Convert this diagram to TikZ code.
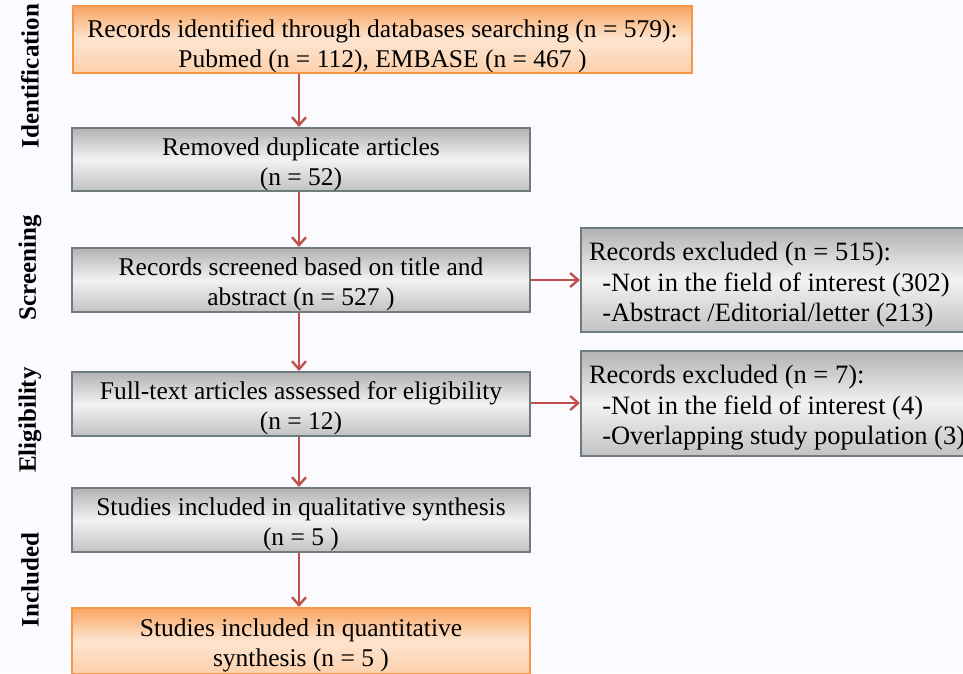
\documentclass[tikz,border=0pt]{standalone}
\usepackage{fontspec}
\setmainfont{Liberation Serif}
\usetikzlibrary{arrows.meta,positioning}
\definecolor{arr}{HTML}{C0504D}
\definecolor{ob}{HTML}{F79646}
\definecolor{gb}{HTML}{6E7B7F}
\tikzset{
  tdown/.style={execute at begin node={\rule{0pt}{#1}}},
  graybox/.style={draw=gb, line width=2pt, top color=black!30, bottom color=black!24, middle color=black!5, align=flush center, font=\fontsize{25.5}{30}\selectfont, inner sep=0pt, text width=450pt, tdown=27pt},
  orangebox/.style={draw=ob, line width=2pt, top color=ob!85, bottom color=ob!45, middle color=ob!25, align=flush center, font=\fontsize{25.5}{30}\selectfont, inner sep=0pt, text width=450pt, tdown=27pt},
  sidebox/.style={graybox, align=flush left, font=\fontsize{26.5}{30.5}\selectfont},
  conn/.style={draw=arr, line width=2.6pt, -{Straight Barb[length=8pt,width=14pt,line width=2.4pt]}},
  stage/.style={rotate=90, font=\bfseries\fontsize{25}{28}\selectfont},
}
\begin{document}
\begin{tikzpicture}[x=1pt,y=-1pt]
\useasboundingbox (0,0) rectangle (963,673);
\fill[white!98!blue] (0,0) rectangle (963,673);
\node[orangebox, tdown=31pt, text width=612pt, minimum width=619, minimum height=63] (b1) at (382.5,39.5) {Records identified through databases searching (n = 579):\\Pubmed (n = 112), EMBASE (n = 467 )};
\node[graybox, minimum width=458, minimum height=63] (b2) at (301,159.5) {Removed duplicate articles\\(n = 52)};
\node[graybox, minimum width=458, minimum height=64] (b3) at (301,280) {Records screened based on title and\\abstract (n = 527 )};
\node[graybox, minimum width=458, minimum height=64] (b4) at (301,404) {Full-text articles assessed for eligibility\\(n = 12)};
\node[graybox, minimum width=458, minimum height=64] (b5) at (301,520) {Studies included in qualitative synthesis\\(n = 5 )};
\node[orangebox, minimum width=458, minimum height=66] (b6) at (301,641) {Studies included in quantitative\\synthesis (n = 5 )};
\node[sidebox, tdown=28pt, minimum width=398, minimum height=104, text width=382] (r1) at (780,280) {Records excluded (n = 515):\\\ \ -Not in the field of interest (302)\\\ \ -Abstract /Editorial/letter (213)};
\node[sidebox, tdown=26pt, minimum width=398, minimum height=105, text width=382] (r2) at (780,403.5) {Records excluded (n = 7):\\\ \ -Not in the field of interest (4)\\\ \ -Overlapping study population (3)};
\draw[conn] (b1.south -| 299,0) -- (b2.north -| 299,0);
\draw[conn] (b2.south -| 299,0) -- (b3.north -| 299,0);
\draw[conn] (b3.south -| 299,0) -- (b4.north -| 299,0);
\draw[conn] (b4.south -| 299,0) -- (b5.north -| 299,0);
\draw[conn] (b5.south -| 299,0) -- (b6.north -| 299,0);
\draw[conn] (b3.east) -- (b3.east -| r1.west);
\draw[conn] (b4.east |- 0,403) -- (r2.west |- 0,403);
\node[stage] (s1) at (30,76) {Identification};
\node[stage] (s2) at (30,268) {Screening};
\node[stage] (s3) at (30,420) {Eligibility};
\node[stage] (s4) at (30,580) {Included};
\end{tikzpicture}
\end{document}
